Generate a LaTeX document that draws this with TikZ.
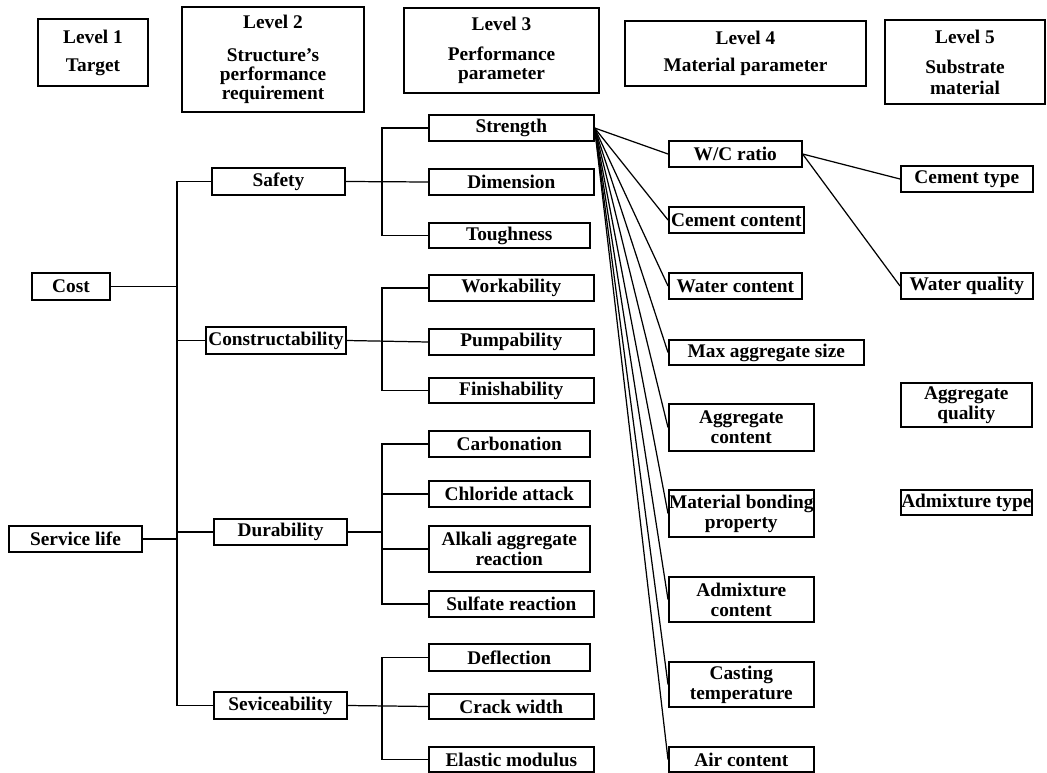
\documentclass[tikz,border=0pt]{standalone}
\usepackage{fontspec}
\setmainfont{Liberation Serif}
\tikzset{
  box/.style={draw, line width=0.9pt, inner sep=0pt, align=center,
    font=\bfseries\fontsize{11}{11.5}\selectfont},
  wh/.style 2 args={minimum width=#1*0.02cm, minimum height=#2*0.02cm},
  link/.style={line width=0.7pt},
}

\begin{document}
\begin{tikzpicture}[x=0.02cm, y=-0.02cm]
	%%%%% START %%%%%
	\def\xtrunk{177}
	\def\xbus{382}
	\def\xthree{428}
	\def\xfour{668}
	\def\xfive{900}

	\useasboundingbox (0,0) rectangle (1047,773);
	\coordinate (trunk) at (\xtrunk,0);
	\coordinate (bus) at (\xbus,0);

	% level headers
	\node[box, wh={110}{67}] (hA) at (93,52.5) {Level 1\\[4.5pt]Target};
	\node[box, wh={182}{105}] (hB) at (273,59.5) {Level 2\\[7pt]Structure's\\[-0.5pt]performance\\[-0.5pt]requirement};
	\node[box, wh={195}{85}] (hC) at (501.5,50.5) {Level 3\\[5.5pt]Performance\\[-0.5pt]parameter};
	\node[box, wh={241}{65}] (hD) at (745.5,53.5) {Level 4\\[3.5pt]Material parameter};
	\node[box, wh={160}{84}] (hE) at (965,62) {Level 5\\[6pt]Substrate\\material};

	% level 1
	\node[box, wh={78}{27}] (cost) at (71,286.5) {Cost};
	\node[box, wh={133}{26}] (slife) at (75.5,539) {Service life};

	% level 2
	\node[box, wh={133}{27}] (safety) at (278.5,181.5) {Safety};
	\node[box, wh={140}{27}] (constr) at (276,340.5) {Constructability};
	\node[box, wh={133}{26}] (durab) at (280.5,532) {Durability};
	\node[box, wh={133}{27}] (servic) at (280.5,705.5) {Seviceability};

	% level 3
	\node[box, wh={165}{26}, anchor=west] (strength) at (\xthree,128) {Strength};
	\node[box, wh={165}{26}, anchor=west] (dimen) at (\xthree,182) {Dimension};
	\node[box, wh={161}{25}, anchor=west] (tough) at (\xthree,235.5) {Toughness};
	\node[box, wh={165}{26}, anchor=west] (workab) at (\xthree,288) {Workability};
	\node[box, wh={165}{26}, anchor=west] (pumpab) at (\xthree,342) {Pumpability};
	\node[box, wh={165}{25}, anchor=west] (finish) at (\xthree,390.5) {Finishability};
	\node[box, wh={161}{26}, anchor=west] (carbon) at (\xthree,444) {Carbonation};
	\node[box, wh={161}{26}, anchor=west] (chlor) at (\xthree,494) {Chloride attack};
	\node[box, wh={161}{46}, anchor=west] (alkali) at (\xthree,549) {Alkali aggregate\\reaction};
	\node[box, wh={165}{26}, anchor=west] (sulfate) at (\xthree,604) {Sulfate reaction};
	\node[box, wh={161}{27}, anchor=west] (deflect) at (\xthree,657.5) {Deflection};
	\node[box, wh={165}{25}, anchor=west] (crack) at (\xthree,706.5) {Crack width};
	\node[box, wh={165}{25}, anchor=west] (elastic) at (\xthree,759.5) {Elastic modulus};

	% level 4
	\node[box, wh={133}{26}, anchor=west] (wcr) at (\xfour,154) {W/C ratio};
	\node[box, wh={135}{26}, anchor=west] (cemc) at (\xfour,220) {Cement content};
	\node[box, wh={133}{26}, anchor=west] (watc) at (\xfour,286) {Water content};
	\node[box, wh={195}{25}, anchor=west] (maxag) at (\xfour,352.5) {Max aggregate size};
	\node[box, wh={145}{47}, anchor=west] (aggc) at (\xfour,427.5) {Aggregate\\content};
	\node[box, wh={145}{47}, anchor=west] (bond) at (\xfour,513.5) {Material bonding\\property};
	\node[box, wh={145}{45}, anchor=west] (admc) at (\xfour,599.5) {Admixture\\content};
	\node[box, wh={145}{45}, anchor=west] (cast) at (\xfour,684.5) {Casting\\temperature};
	\node[box, wh={145}{25}, anchor=west] (air) at (\xfour,759.5) {Air content};

	% level 5
	\node[box, wh={132}{26}, anchor=west] (cemt) at (\xfive,179) {Cement type};
	\node[box, wh={132}{26}, anchor=west] (watq) at (\xfive,286) {Water quality};
	\node[box, wh={131}{44}, anchor=west] (aggq) at (\xfive,405) {Aggregate\\quality};
	\node[box, wh={131}{25}, anchor=west] (admt) at (\xfive,502.5) {Admixture type};

	% target -> requirement
	\draw[link] (safety.west) -- (safety.west -| trunk) -- (servic.west -| trunk) -- (servic.west);
	\draw[link] (cost.east) -- (cost.east -| trunk);
	\draw[link] (slife.east) -- (slife.east -| trunk);
	\draw[link] (constr.west) -- (constr.west -| trunk);
	\draw[link] (durab.west) -- (durab.west -| trunk);

	% requirement -> performance
	\draw[link] (strength.west) -- (strength.west -| bus) -- (tough.west -| bus) -- (tough.west);
	\draw[link] (safety.east) -- (dimen.west);
	\draw[link] (workab.west) -- (workab.west -| bus) -- (finish.west -| bus) -- (finish.west);
	\draw[link] (constr.east) -- (pumpab.west);
	\draw[link] (carbon.west) -- (carbon.west -| bus) -- (sulfate.west -| bus) -- (sulfate.west);
	\draw[link] (chlor.west) -- (chlor.west -| bus);
	\draw[link] (alkali.west) -- (alkali.west -| bus);
	\draw[link] (durab.east) -- (durab.east -| bus);
	\draw[link] (deflect.west) -- (deflect.west -| bus) -- (elastic.west -| bus) -- (elastic.west);
	\draw[link] (servic.east) -- (crack.west);

	% strength -> material parameters
	\foreach \m in {wcr,cemc,watc,maxag,aggc,bond,admc,cast,air}
		\draw[link] (strength.east) -- (\m.west);
	\draw[link] (wcr.east) -- (cemt.west);
	\draw[link] (wcr.east) -- (watq.west);
	%%%%% END %%%%%
\end{tikzpicture}
\end{document}
